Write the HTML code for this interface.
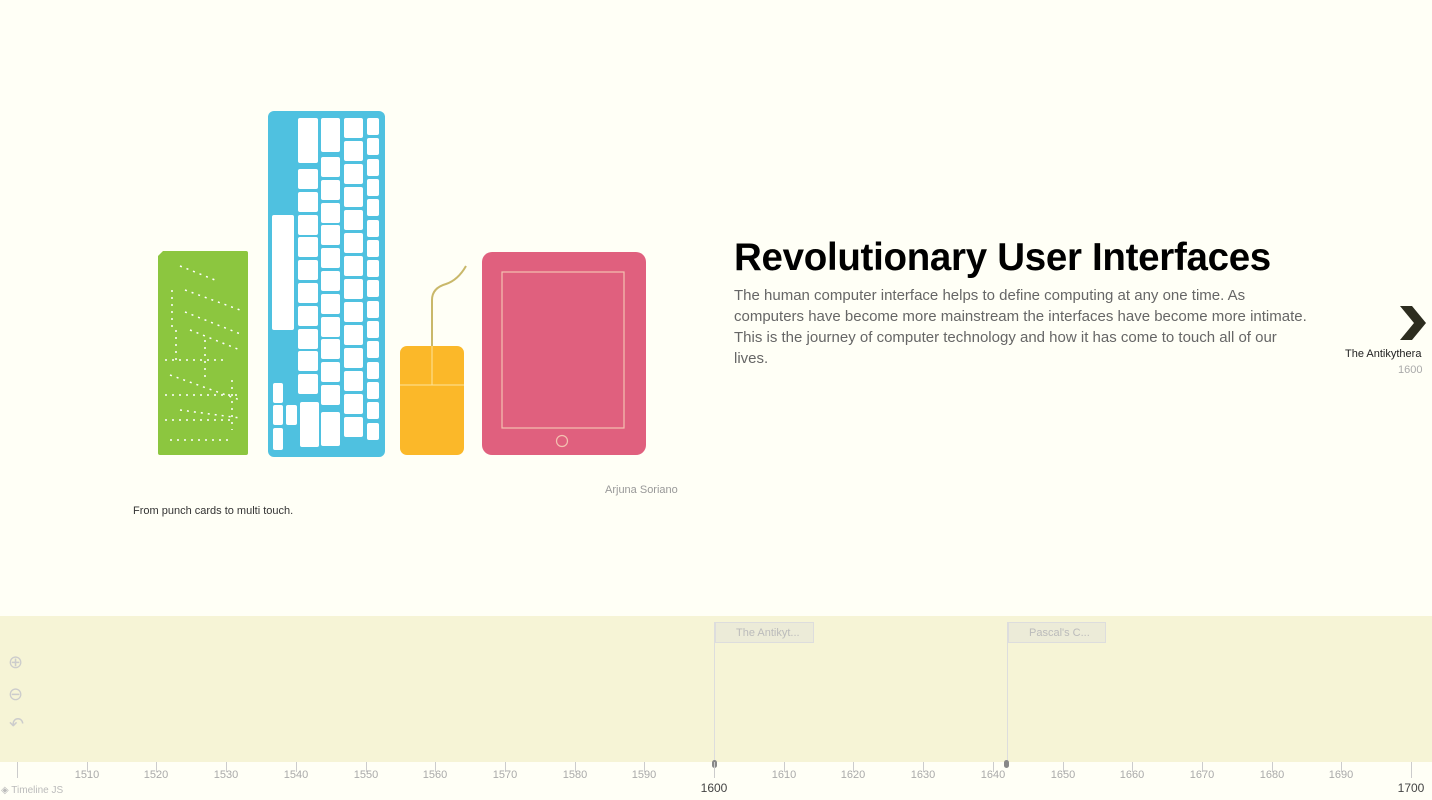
<!DOCTYPE html>
<html><head><style>
body{margin:0;width:1432px;height:800px;background:#fffff6;font-family:"Liberation Sans",sans-serif;position:relative;overflow:hidden}
.a{position:absolute}
.k{position:absolute;background:#fff;border-radius:2px}
</style></head><body>
<svg class="a" style="left:0;top:0" width="700" height="470">
<path d="M163 251H246a2 2 0 0 1 2 2V453a2 2 0 0 1-2 2H160a2 2 0 0 1-2-2V256z" fill="#8cc63f"/>
<g stroke="#fff" stroke-width="1.5" stroke-dasharray="2 5" fill="none">
<path d="M180 266L215 280"/><path d="M185 290L240 310"/><path d="M185 312L243 335"/>
<path d="M190 330L240 350"/><path d="M172 290V330"/><path d="M176 330V360"/>
<path d="M165 360H225"/><path d="M170 375L240 400"/><path d="M165 395H240"/>
<path d="M180 410L240 418"/><path d="M232 380V430"/><path d="M205 340V380"/><path d="M165 420H235"/><path d="M170 440H230"/>
</g>
<rect x="268" y="111" width="117" height="346" rx="6" fill="#4fc1e0"/>
<g fill="#fff">
<rect x="272" y="215" width="22" height="115" rx="2"/>
<rect x="298" y="118" width="20" height="45" rx="2"/>
<rect x="273" y="383" width="10" height="20" rx="2"/><rect x="273" y="405" width="10" height="20" rx="2"/><rect x="286" y="405" width="11" height="20" rx="2"/><rect x="273" y="428" width="10" height="22" rx="2"/>
<rect x="300" y="402" width="19" height="45" rx="2"/>
<rect x="321" y="118" width="19" height="34" rx="2"/>
</g>
<path d="M432 346V300q0-12 14-16q12-4 20-18" stroke="#c9b86a" stroke-width="2" fill="none"/>
<rect x="400" y="346" width="64" height="109" rx="7" fill="#fbb829"/>
<path d="M432 346V385M400 385H464" stroke="#fde49a" stroke-width="1"/>
<rect x="482" y="252" width="164" height="203" rx="10" fill="#e0607e"/>
<rect x="502" y="272" width="122" height="156" fill="none" stroke="#f3c1b0" stroke-width="1.2"/>
<circle cx="562" cy="441" r="5.5" fill="none" stroke="#f3c1b0" stroke-width="1.2"/>
</svg>
<div class="a" id="keys"></div>
<script>
var h='';
function k(x,y,w,hh){h+='<div class="k" style="left:'+x+'px;top:'+y+'px;width:'+w+'px;height:'+hh+'px"></div>';}
for(var i=0;i<10;i++)k(298,169+i*22.8,20,20);
for(var i=0;i<11;i++)k(321,157+i*22.8,19,20);
k(321,412,19,34);
for(var i=0;i<14;i++)k(344,118+i*23,19,20);
for(var i=0;i<16;i++)k(367,118+i*20.3,12,17);
document.getElementById('keys').innerHTML=h;
</script>
<div class="a" style="left:734px;top:236px;font-size:38.5px;font-weight:bold;color:#000;letter-spacing:-0.3px">Revolutionary User Interfaces</div>
<div class="a" style="left:734px;top:285px;width:580px;font-size:15px;line-height:21px;color:#666">The human computer interface helps to define computing at any one time. As computers have become more mainstream the interfaces have become more intimate. This is the journey of computer technology and how it has come to touch all of our lives.</div>
<div class="a" style="left:605px;top:484px;font-size:11px;color:#999">Arjuna Soriano</div>
<div class="a" style="left:133px;top:505px;font-size:11px;color:#333">From punch cards to multi touch.</div>
<svg class="a" style="left:1398px;top:306px" width="30" height="34"><path d="M2 0H14L28 17L14 34H2L16 17Z" fill="#2d2d1f"/></svg>
<div class="a" style="left:1345px;top:348px;font-size:11px;color:#222">The Antikythera</div>
<div class="a" style="left:1398px;top:364px;font-size:11px;color:#aaa">1600</div>
<div class="a" style="left:0;top:616px;width:1432px;height:146px;background:#f6f4d6"></div>
<div class="a" style="left:714px;top:622px;width:1px;height:140px;background:#ddd"></div>
<div class="a" style="left:1007px;top:622px;width:1px;height:140px;background:#ddd"></div>
<div class="a" style="left:715px;top:622px;width:99px;height:21px;background:#ecebd8;border:1px solid #ddd;font-size:11px;color:#bbb;line-height:21px;padding-left:20px;box-sizing:border-box">The Antikyt...</div>
<div class="a" style="left:1008px;top:622px;width:98px;height:21px;background:#ecebd8;border:1px solid #ddd;font-size:11px;color:#bbb;line-height:21px;padding-left:20px;box-sizing:border-box">Pascal's C...</div>
<div class="a" style="left:8px;top:652px;font-size:18px;color:#ccc">⊕</div>
<div class="a" style="left:8px;top:684px;font-size:18px;color:#ccc">⊖</div>
<div class="a" style="left:9px;top:714px;font-size:18px;color:#ccc">↶</div>
<div class="a" style="left:712px;top:760px;width:5px;height:8px;border-radius:3px;background:#888"></div>
<div class="a" style="left:1004px;top:760px;width:5px;height:8px;border-radius:3px;background:#888"></div>
<div id="ax"></div>
<script>
var s='';
for(var y=1500;y<=1700;y+=10){var x=17+(y-1500)*6.97;var maj=(y%100==0);
s+='<div class="a" style="left:'+Math.round(x)+'px;top:762px;width:1px;height:'+(maj?16:10)+'px;background:#ccc"></div>';
if(y==1500)continue;
s+='<div class="a" style="left:'+(Math.round(x)-20)+'px;width:40px;text-align:center;top:'+(maj?781:769)+'px;font-size:'+(maj?12:11)+'px;color:'+(maj?'#444':'#aaa')+'">'+y+'</div>';}
document.getElementById('ax').innerHTML=s;
</script>
<div class="a" style="left:1px;top:785px;font-size:10px;color:#bbb">◈ Timeline JS</div>
</body></html>
